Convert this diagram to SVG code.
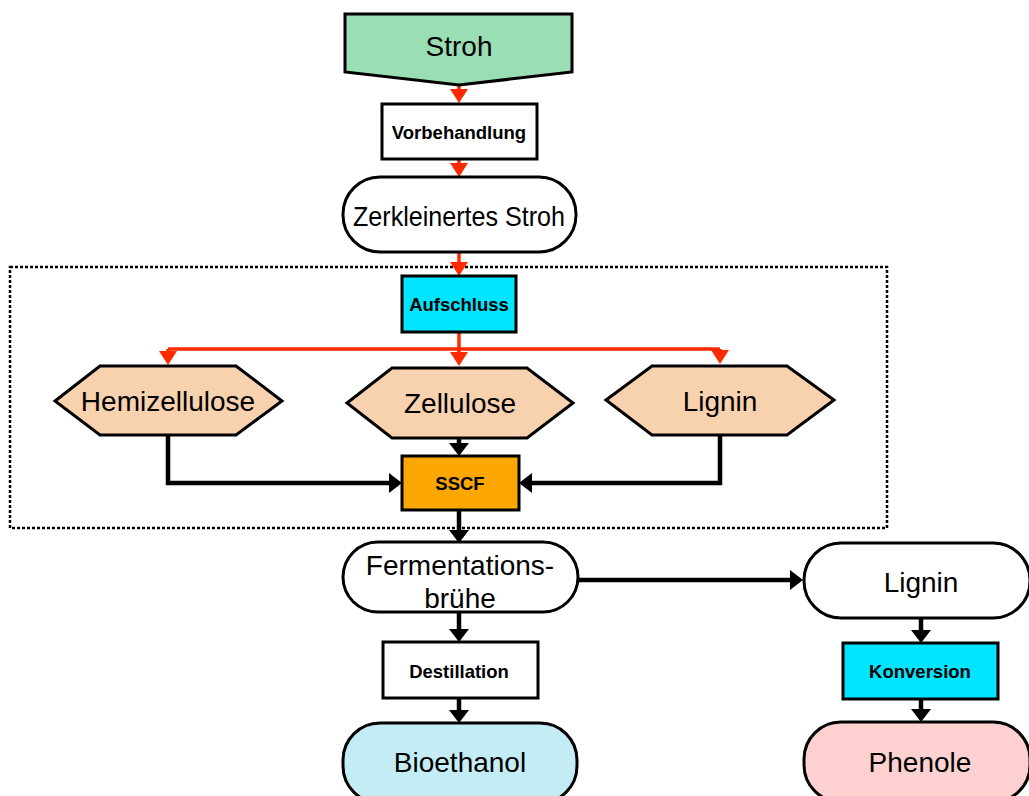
<svg xmlns="http://www.w3.org/2000/svg" width="1029" height="796" viewBox="0 0 1029 796">
  <style>
    .node { stroke: #000; stroke-width: 3; stroke-linejoin: miter; }
    .big { font-family: "Liberation Sans", Arial, sans-serif; font-size: 28px; fill: #000; text-anchor: middle; }
    .small { font-family: "Liberation Sans", Arial, sans-serif; font-size: 18.5px; font-weight: bold; fill: #000; text-anchor: middle; }
    .red { fill: none; stroke: #FF2A00; stroke-width: 3.5; }
    .blk { fill: none; stroke: #000; stroke-width: 4.5; }
  </style>
  <defs>
    <marker id="headRed" markerUnits="userSpaceOnUse" viewBox="0 0 14 18" refX="0" refY="9" markerWidth="14" markerHeight="18" orient="auto">
      <path d="M0,0 L14,9 L0,18 z" fill="#FF2A00"/>
    </marker>
    <marker id="headBlk" markerUnits="userSpaceOnUse" viewBox="0 0 13 20" refX="0" refY="10" markerWidth="13" markerHeight="20" orient="auto">
      <path d="M0,0 L13,10 L0,20 z" fill="#000"/>
    </marker>
  </defs>
  <rect width="1029" height="796" fill="#fff"/>

  <!-- dotted frame around the digestion stage -->
  <rect id="frame" x="10" y="267" width="877" height="261" fill="none" stroke="#000" stroke-width="2.5" stroke-dasharray="3 2"/>

  <g id="connectors">
    <path class="red" d="M459,85 V89" marker-end="url(#headRed)"/>
    <path class="red" d="M459,159 V163" marker-end="url(#headRed)"/>
    <path class="red" d="M459,252 V262" marker-end="url(#headRed)"/>
    <path class="red" d="M459,332 V352" marker-end="url(#headRed)"/>
    <path class="red" d="M168,349 H720"/>
    <path class="red" d="M168,349 V351" marker-end="url(#headRed)"/>
    <path class="red" d="M720,349 V350" marker-end="url(#headRed)"/>
    <path class="blk" d="M459,438 V443" marker-end="url(#headBlk)"/>
    <path class="blk" d="M168,435 V483 H389" marker-end="url(#headBlk)"/>
    <path class="blk" d="M720,435 V483 H532" marker-end="url(#headBlk)"/>
    <path class="blk" d="M459,510 V530" marker-end="url(#headBlk)"/>
    <path class="blk" d="M578,580 H790" marker-end="url(#headBlk)"/>
    <path class="blk" d="M459,612 V629" marker-end="url(#headBlk)"/>
    <path class="blk" d="M459,698 V710" marker-end="url(#headBlk)"/>
    <path class="blk" d="M921,618 V630" marker-end="url(#headBlk)"/>
    <path class="blk" d="M921,699 V709" marker-end="url(#headBlk)"/>
  </g>

  <g id="stroh">
    <polygon class="node" points="345,14 572,14 572,72 459,85 345,72" fill="#9ADFB3"/>
    <text class="big" x="459" y="56">Stroh</text>
  </g>
  <g id="vorbehandlung">
    <rect class="node" x="382" y="104" width="155" height="55" fill="#fff" stroke-width="2"/>
    <text class="small" x="459" y="139">Vorbehandlung</text>
  </g>
  <g id="zerkleinert">
    <rect class="node" x="343" y="177" width="233" height="75" rx="37" fill="#fff"/>
    <text class="big" x="459" y="226" textLength="212" lengthAdjust="spacingAndGlyphs">Zerkleinertes Stroh</text>
  </g>
  <g id="aufschluss">
    <rect class="node" x="402" y="276" width="114" height="56" fill="#00E5FF" stroke-width="2"/>
    <text class="small" x="459" y="311">Aufschluss</text>
  </g>
  <g id="hemizellulose">
    <polygon class="node" points="55,401 100,366 236,366 282,401 236,435 100,435" fill="#F8D1AE"/>
    <text class="big" x="168" y="411">Hemizellulose</text>
  </g>
  <g id="zellulose">
    <polygon class="node" points="347,403 392,368 527,368 573,403 527,438 392,438" fill="#F8D1AE"/>
    <text class="big" x="460" y="413">Zellulose</text>
  </g>
  <g id="lignin1">
    <polygon class="node" points="606,400 652,366 787,366 834,400 787,435 652,435" fill="#F8D1AE"/>
    <text class="big" x="720" y="411">Lignin</text>
  </g>
  <g id="sscf">
    <rect class="node" x="402" y="456" width="117" height="54" fill="#FBA700" stroke-width="2"/>
    <text class="small" x="460" y="490">SSCF</text>
  </g>
  <g id="fermentation">
    <rect class="node" x="343" y="542" width="235" height="70" rx="35" fill="#fff"/>
    <text class="big" x="460" y="575">Fermentations-</text>
    <text class="big" x="460" y="608">brühe</text>
  </g>
  <g id="destillation">
    <rect class="node" x="383" y="642" width="155" height="56" fill="#fff" stroke-width="2"/>
    <text class="small" x="459" y="678">Destillation</text>
  </g>
  <g id="bioethanol">
    <rect class="node" x="343" y="723" width="234" height="80" rx="37" fill="#C4ECF4"/>
    <text class="big" x="460" y="772">Bioethanol</text>
  </g>
  <g id="lignin2">
    <rect class="node" x="804" y="543" width="226" height="75" rx="37" fill="#fff"/>
    <text class="big" x="921" y="592">Lignin</text>
  </g>
  <g id="konversion">
    <rect class="node" x="843" y="643" width="155" height="56" fill="#00E5FF" stroke-width="2"/>
    <text class="small" x="920" y="678">Konversion</text>
  </g>
  <g id="phenole">
    <rect class="node" x="804" y="722" width="226" height="80" rx="37" fill="#FFD0D0"/>
    <text class="big" x="920" y="772">Phenole</text>
  </g>
</svg>
